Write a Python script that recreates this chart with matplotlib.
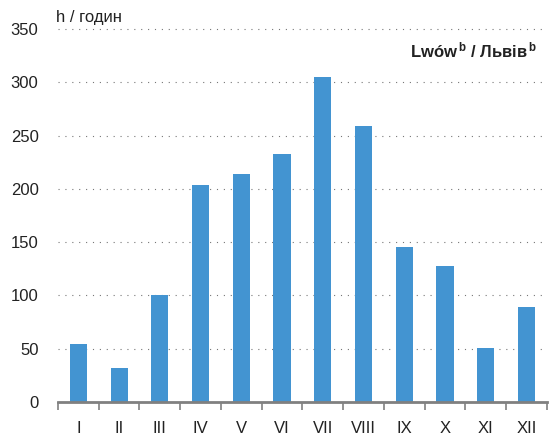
import matplotlib
matplotlib.use("Agg")
import matplotlib.pyplot as plt
import numpy as np

# monthly sunshine hours
months = ["I", "II", "III", "IV", "V", "VI", "VII", "VIII", "IX", "X", "XI", "XII"]
hours = [54, 32, 100, 204, 214, 233, 305, 259, 145, 128, 51, 89]
yticks = [0, 50, 100, 150, 200, 250, 300, 350]

plt.rcParams['font.family'] = ['Liberation Sans Narrow', 'Liberation Sans', 'DejaVu Sans']
plt.rcParams['mathtext.default'] = 'regular'

fig = plt.figure(figsize=(5.54, 4.36), dpi=100)
ax = fig.add_axes([0.1047, 0.078, 0.8823, 0.8557])

x = np.arange(len(months))
ax.bar(x, hours, width=0.42, color='#4394d1', zorder=2)

ax.set_xlim(-0.5, len(months) - 0.5)
ax.set_ylim(0, 350)

# dotted grid lines
for v in yticks[1:]:
    ax.axhline(v, color='#777777', linestyle=(0, (1, 5.2)), linewidth=0.8,
               zorder=1, clip_on=False)

for s in ['left', 'right', 'top']:
    ax.spines[s].set_visible(False)
ax.spines['bottom'].set_color('#808080')
ax.spines['bottom'].set_linewidth(2)
ax.spines['bottom'].set_zorder(3)

ax.set_yticks(yticks)
ax.tick_params(axis='y', length=0, labelsize=12, pad=14, colors='#222222')

# ticks between categories, labels centered
ax.set_xticks(np.arange(len(months) + 1) - 0.5)
ax.set_xticklabels([])
ax.set_xticks(x, minor=True)
ax.set_xticklabels(months, minor=True)
ax.tick_params(axis='x', which='major', length=6, width=1.2, color='#808080')
ax.tick_params(axis='x', which='minor', length=0, labelsize=12, pad=14,
               colors='#222222')

fig.text(0.101, 0.95, "h / годин", fontsize=12, color='#222222')
fig.text(0.97, 0.868, r"Lwów$^{\,b}$ / Львів$^{\,b}$", fontsize=12,
         fontweight='bold', ha='right', color='#222222')

fig.savefig("out.png", dpi=100)
